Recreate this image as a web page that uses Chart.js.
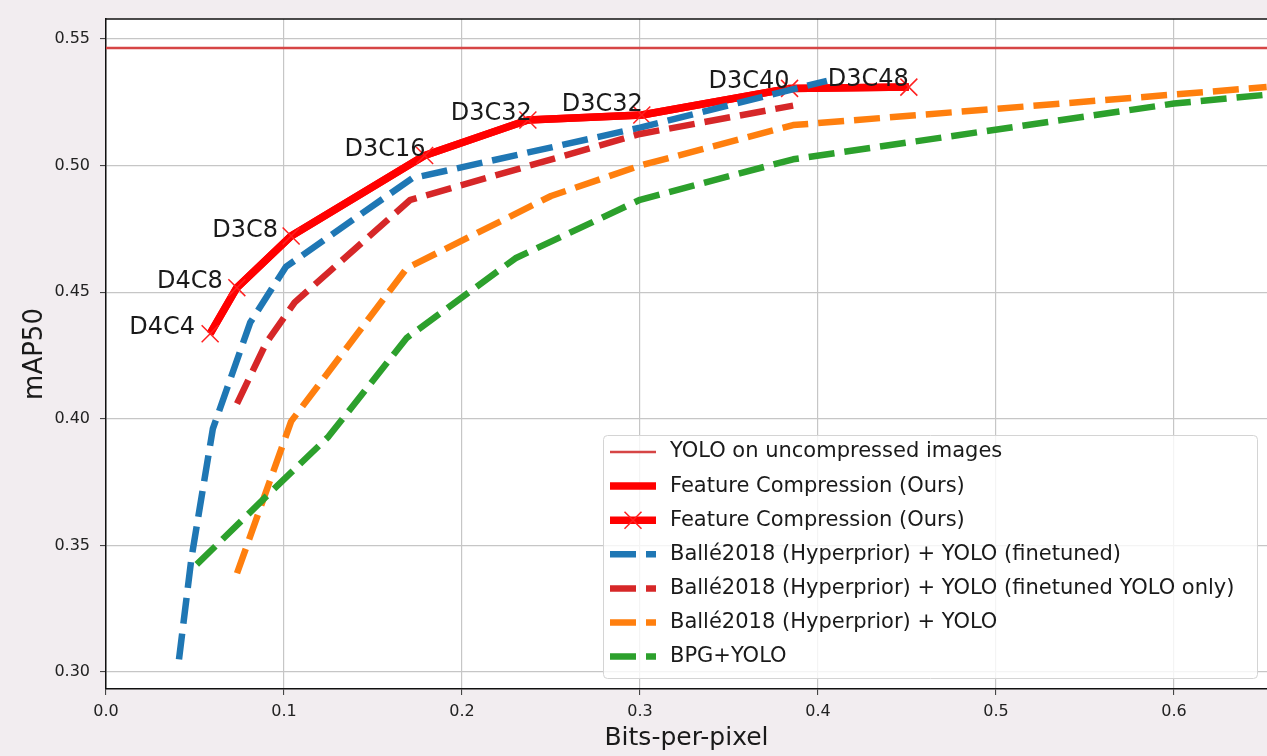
<!DOCTYPE html>
<html>
<head>
<meta charset="utf-8">
<script src="https://cdn.jsdelivr.net/npm/chart.js@4.4.0/dist/chart.umd.min.js"></script>
<style>
  html, body { margin: 0; padding: 0; background: #f2edf0; }
  canvas { display: block; }
</style>
</head>
<body>
<canvas id="chart" width="1267" height="756"></canvas>
<script>
// YOLO on uncompressed images (horizontal reference)
const baselineMap = 0.5464;

// Feature Compression (Ours)
const oursBpp = [0.0585, 0.0735, 0.104, 0.179, 0.237, 0.301, 0.384, 0.451];
const oursMap = [0.4336, 0.4518, 0.4722, 0.5040, 0.5180, 0.5200, 0.5305, 0.5310];
const oursLabels = ['D4C4', 'D4C8', 'D3C8', 'D3C16', 'D3C32', 'D3C32', 'D3C40', 'D3C48'];

// Ballé2018 (Hyperprior) + YOLO (finetuned)
const balleFtBpp = [0.041, 0.048, 0.060, 0.081, 0.101, 0.172, 0.300, 0.405];
const balleFtMap = [0.305, 0.345, 0.396, 0.438, 0.460, 0.495, 0.515, 0.5335];

// Ballé2018 (Hyperprior) + YOLO (finetuned YOLO only)
const balleYoloBpp = [0.0736, 0.090, 0.106, 0.171, 0.300, 0.386];
const balleYoloMap = [0.406, 0.430, 0.446, 0.4865, 0.5125, 0.5237];

// Ballé2018 (Hyperprior) + YOLO
const balleBpp = [0.0736, 0.104, 0.169, 0.250, 0.300, 0.386, 0.652];
const balleMap = [0.339, 0.399, 0.4595, 0.488, 0.500, 0.516, 0.531];

// BPG+YOLO
const bpgBpp = [0.051, 0.091, 0.125, 0.169, 0.230, 0.300, 0.386, 0.600, 0.652];
const bpgMap = [0.3425, 0.370, 0.393, 0.432, 0.4634, 0.4865, 0.5025, 0.5245, 0.528];

// axis ranges
const X_MIN = 0, X_MAX = 0.6522;
const Y_MIN = 0.2933, Y_MAX = 0.5579;

// label nudges (px) relative to each marker
const labelDx = [-15, -14, -13, 1, 4, 1, 0, 0];
const labelDy = [0, 0, 1, 1, 0, -4, 0, -1];

const toPts = (xs, ys) => xs.map((x, i) => ({ x: x, y: ys[i] }));
const DASH = [26, 10];

const datasets = [
  {
    label: 'YOLO on uncompressed images',
    data: [{ x: X_MIN, y: baselineMap }, { x: X_MAX, y: baselineMap }],
    borderColor: '#d64545', borderWidth: 2.5, order: 7
  },
  {
    label: 'Feature Compression (Ours)',
    data: toPts(oursBpp, oursMap),
    borderColor: '#ff0000', borderWidth: 7.5, order: 6
  },
  {
    label: 'Feature Compression (Ours)',
    data: toPts(oursBpp, oursMap),
    borderColor: '#ff0000', borderWidth: 7.5, order: 5,
    pointStyle: 'crossRot', pointRadius: 12, pointBorderWidth: 1.5,
    pointBorderColor: '#ff2020', pointBackgroundColor: '#ff2020'
  },
  {
    label: 'Ballé2018 (Hyperprior) + YOLO (finetuned)',
    data: toPts(balleFtBpp, balleFtMap),
    borderColor: '#1f77b4', borderWidth: 6.5, borderDash: DASH, order: 4
  },
  {
    label: 'Ballé2018 (Hyperprior) + YOLO (finetuned YOLO only)',
    data: toPts(balleYoloBpp, balleYoloMap),
    borderColor: '#d62728', borderWidth: 6.5, borderDash: DASH, order: 3
  },
  {
    label: 'Ballé2018 (Hyperprior) + YOLO',
    data: toPts(balleBpp, balleMap),
    borderColor: '#ff7f0e', borderWidth: 6.5, borderDash: DASH, order: 2
  },
  {
    label: 'BPG+YOLO',
    data: toPts(bpgBpp, bpgMap),
    borderColor: '#2ca02c', borderWidth: 6.5, borderDash: DASH, order: 1
  }
];
datasets.forEach(d => {
  d.showLine = true;
  d.fill = false;
  d.tension = 0;
  d.borderCapStyle = 'butt';
  d.borderJoinStyle = 'round';
  if (d.pointRadius === undefined) d.pointRadius = 0;
});

// white plot area + top spine
const framePlugin = {
  id: 'frame',
  beforeDraw(chart) {
    const { ctx, chartArea: a } = chart;
    ctx.save();
    ctx.fillStyle = '#ffffff';
    ctx.fillRect(a.left, a.top, a.right - a.left, a.bottom - a.top);
    ctx.restore();
  },
  afterDatasetsDraw(chart) {
    const { ctx, chartArea: a } = chart;
    ctx.save();
    ctx.strokeStyle = '#111';
    ctx.lineWidth = 1.5;
    ctx.beginPath();
    ctx.moveTo(a.left, a.top);
    ctx.lineTo(a.right, a.top);
    ctx.stroke();
    ctx.restore();
  }
};

// config names next to the red markers
const labelPlugin = {
  id: 'pointLabels',
  afterDatasetsDraw(chart) {
    const { ctx, scales: { x, y } } = chart;
    ctx.save();
    ctx.font = '24px "DejaVu Sans"';
    ctx.fillStyle = '#1a1a1a';
    ctx.textAlign = 'right';
    ctx.textBaseline = 'alphabetic';
    oursLabels.forEach((t, i) => {
      const px = x.getPixelForValue(oursBpp[i]) + labelDx[i];
      const py = y.getPixelForValue(oursMap[i]) + labelDy[i];
      ctx.fillText(t, px, py);
    });
    ctx.restore();
  }
};

// matplotlib-style legend inside lower right
const legendPlugin = {
  id: 'boxLegend',
  afterDraw(chart) {
    const ctx = chart.ctx;
    const box = { x: 603.5, y: 435.5, w: 654, h: 243 };
    ctx.save();
    ctx.beginPath();
    ctx.roundRect(box.x, box.y, box.w, box.h, 4);
    ctx.fillStyle = 'rgba(255,255,255,0.8)';
    ctx.fill();
    ctx.strokeStyle = '#d4d4d4';
    ctx.lineWidth = 1;
    ctx.stroke();

    const rowTop = 452, rowGap = 34.1;
    const hx0 = 610, hx1 = 656, tx = 670;
    ctx.font = '21px "DejaVu Sans"';
    ctx.textBaseline = 'middle';
    ctx.textAlign = 'left';
    chart.data.datasets.forEach((d, i) => {
      const cy = rowTop + i * rowGap;
      ctx.save();
      ctx.strokeStyle = d.borderColor;
      ctx.lineWidth = d.borderWidth;
      ctx.lineCap = 'butt';
      ctx.setLineDash(d.borderDash || []);
      ctx.beginPath();
      ctx.moveTo(hx0, cy);
      ctx.lineTo(hx1, cy);
      ctx.stroke();
      ctx.restore();
      if (d.pointStyle === 'crossRot') {
        const r = d.pointRadius * Math.SQRT1_2;
        const mx = (hx0 + hx1) / 2;
        ctx.save();
        ctx.strokeStyle = d.pointBorderColor;
        ctx.lineWidth = d.pointBorderWidth;
        ctx.beginPath();
        ctx.moveTo(mx - r, cy - r); ctx.lineTo(mx + r, cy + r);
        ctx.moveTo(mx - r, cy + r); ctx.lineTo(mx + r, cy - r);
        ctx.stroke();
        ctx.restore();
      }
      ctx.fillStyle = '#1a1a1a';
      ctx.fillText(d.label, tx, cy);
    });
    ctx.restore();
  }
};

// keep only round ticks that lie inside the axis range
const onlyRound = (step, lo, hi) => (scale) => {
  scale.ticks = scale.ticks.filter(t =>
    t.value >= lo && t.value <= hi &&
    Math.abs(t.value / step - Math.round(t.value / step)) < 1e-6);
};

new Chart(document.getElementById('chart'), {
  type: 'scatter',
  data: { datasets: datasets },
  options: {
    responsive: false,
    animation: false,
    devicePixelRatio: 1,
    layout: { autoPadding: false, padding: { top: 19, right: 0, bottom: 0, left: 0 } },
    plugins: { legend: { display: false }, tooltip: { enabled: false } },
    scales: {
      x: {
        type: 'linear', min: X_MIN, max: X_MAX,
        afterBuildTicks: onlyRound(0.1, X_MIN, X_MAX),
        afterFit(scale) { scale.height = 67; scale.paddingLeft = 0; scale.paddingRight = 0; },
        ticks: {
          stepSize: 0.1, padding: 7, color: '#222', includeBounds: false,
          font: { family: 'DejaVu Sans', size: 16 },
          callback: v => Number(v).toFixed(1)
        },
        grid: { color: '#c6c6c6', lineWidth: 1.2, tickLength: 6, tickColor: '#333', tickWidth: 1 },
        border: { display: true, color: '#111', width: 1.5 },
        title: {
          display: true, text: 'Bits-per-pixel', color: '#1a1a1a',
          font: { family: 'DejaVu Sans', size: 25 }, padding: { top: 0, bottom: 3 }
        }
      },
      y: {
        type: 'linear', min: Y_MIN, max: Y_MAX,
        afterBuildTicks: onlyRound(0.05, Y_MIN, Y_MAX),
        afterFit(scale) { scale.width = 106; scale.paddingTop = 0; scale.paddingBottom = 0; },
        ticks: {
          stepSize: 0.05, padding: 10, color: '#222', includeBounds: false,
          font: { family: 'DejaVu Sans', size: 16 },
          callback: v => Number(v).toFixed(2)
        },
        grid: { color: '#c6c6c6', lineWidth: 1.2, tickLength: 6, tickColor: '#333', tickWidth: 1 },
        border: { display: true, color: '#111', width: 1.5 },
        title: {
          display: true, text: 'mAP50', color: '#1a1a1a',
          font: { family: 'DejaVu Sans', size: 26 }, padding: { top: 20, bottom: 0 }
        }
      }
    }
  },
  plugins: [framePlugin, labelPlugin, legendPlugin]
});
</script>
</body>
</html>
